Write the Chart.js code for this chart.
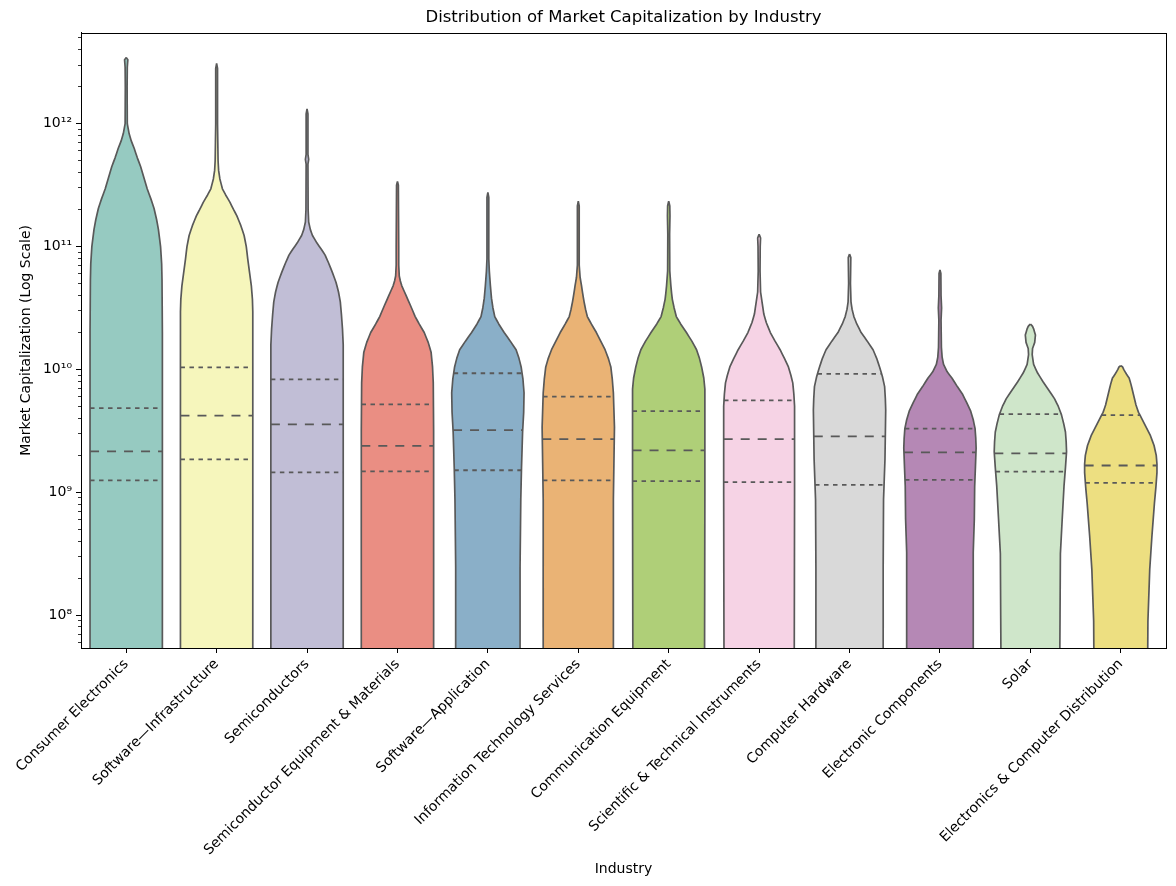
<!DOCTYPE html>
<html>
<head>
<meta charset="utf-8">
<script src="https://cdn.jsdelivr.net/npm/chart.js@4.4.0/dist/chart.umd.min.js"></script>
<style>
  html, body { margin: 0; padding: 0; background: #fff; }
</style>
</head>
<body>
<canvas id="myChart" width="1176" height="886"></canvas>
<script>
const industries = [
    'Consumer Electronics', 'Software\u2014Infrastructure', 'Semiconductors',
    'Semiconductor Equipment & Materials', 'Software\u2014Application',
    'Information Technology Services', 'Communication Equipment',
    'Scientific & Technical Instruments', 'Computer Hardware',
    'Electronic Components', 'Solar', 'Electronics & Computer Distribution'
];

const fillColors = [
    '#96cac1', '#f6f6bc', '#c1bed6', '#ea8e83', '#8aafc8', '#eab375',
    '#afcf78', '#f6d3e5', '#d9d9d9', '#b588b5', '#cfe6ca', '#eddf81'
];

// quartiles of market cap (USD)
const q1Values = [1.25e9, 1.85e9, 1.45e9, 1.48e9, 1.51e9, 1.25e9, 1.23e9, 1.21e9, 1.15e9, 1.26e9, 1.47e9, 1.19e9];
const medianValues = [2.15e9, 4.2e9, 3.57e9, 2.38e9, 3.2e9, 2.71e9, 2.19e9, 2.71e9, 2.85e9, 2.11e9, 2.07e9, 1.65e9];
const q3Values = [4.84e9, 1.04e10, 8.3e9, 5.2e9, 9.3e9, 6.0e9, 4.58e9, 5.6e9, 9.2e9, 3.3e9, 4.33e9, 4.25e9];

// violin outlines: [log10 market cap, relative density width]
const consumerElectronics = [[12.54, 0], [12.52, 0.045], [12.46, 0.03], [12.3, 0.025], [12.0, 0.03], [11.92, 0.08],
    [11.86, 0.14], [11.8, 0.22], [11.72, 0.31], [11.65, 0.4], [11.56, 0.49], [11.47, 0.58], [11.39, 0.68], [11.31, 0.77],
    [11.22, 0.84], [11.14, 0.89], [11.0, 0.95], [10.86, 0.98], [10.73, 0.99], [10.3, 1.0], [7.5, 1.0]];
const softwareInfrastructure = [[12.49, 0], [12.45, 0.025], [12.0, 0.025], [11.7, 0.04], [11.62, 0.055], [11.55, 0.09],
    [11.47, 0.16], [11.42, 0.25], [11.36, 0.37], [11.3, 0.47], [11.25, 0.56], [11.17, 0.67], [11.09, 0.76], [11.0, 0.82],
    [10.9, 0.86], [10.79, 0.91], [10.68, 0.96], [10.57, 0.99], [10.47, 1.0], [7.5, 1.0]];
const semiconductors = [[12.12, 0], [12.08, 0.025], [11.75, 0.025], [11.71, 0.045], [11.67, 0.025], [11.3, 0.03],
    [11.2, 0.045], [11.14, 0.09], [11.09, 0.15], [11.03, 0.27], [10.98, 0.39], [10.93, 0.5], [10.87, 0.59], [10.79, 0.7],
    [10.71, 0.8], [10.63, 0.87], [10.55, 0.92], [10.45, 0.95], [10.33, 0.98], [10.2, 1.0], [7.5, 1.0]];
const semiEquipment = [[11.53, 0], [11.5, 0.025], [11.0, 0.035], [10.85, 0.035], [10.76, 0.05], [10.72, 0.08], [10.68, 0.12],
    [10.6, 0.24], [10.52, 0.36], [10.43, 0.49], [10.37, 0.6], [10.3, 0.74], [10.22, 0.85], [10.14, 0.93], [10.02, 0.97],
    [9.89, 0.99], [9.5, 1.0], [7.5, 1.0]];
const softwareApplication = [[11.44, 0], [11.4, 0.025], [10.9, 0.025], [10.8, 0.04], [10.68, 0.07], [10.58, 0.1], [10.5, 0.14],
    [10.43, 0.19], [10.37, 0.3], [10.3, 0.45], [10.23, 0.62], [10.16, 0.78], [10.09, 0.86], [10.02, 0.92], [9.92, 0.97],
    [9.81, 1.0], [9.65, 0.99], [9.49, 0.96], [9.2, 0.93], [8.94, 0.91], [8.39, 0.89], [7.5, 0.89]];
const itServices = [[11.37, 0], [11.33, 0.025], [10.85, 0.025], [10.75, 0.05], [10.68, 0.09], [10.62, 0.12], [10.55, 0.16],
    [10.49, 0.2], [10.43, 0.25], [10.37, 0.36], [10.3, 0.5], [10.23, 0.62], [10.16, 0.74], [10.09, 0.83], [10.02, 0.9],
    [9.92, 0.94], [9.81, 0.97], [9.53, 1.0], [8.94, 0.97], [7.5, 0.97]];
const commEquipment = [[11.37, 0], [11.33, 0.03], [11.25, 0.035], [11.1, 0.025], [10.8, 0.03], [10.68, 0.06],
    [10.62, 0.08], [10.57, 0.1], [10.5, 0.15], [10.43, 0.21], [10.37, 0.33], [10.3, 0.49], [10.23, 0.64], [10.16, 0.77],
    [10.09, 0.85], [10.02, 0.91], [9.93, 0.97], [9.84, 1.0], [9.0, 1.0], [7.5, 0.99]];
const sciInstruments = [[11.1, 0], [11.07, 0.04], [11.0, 0.03], [10.8, 0.025], [10.63, 0.04], [10.55, 0.08],
    [10.45, 0.13], [10.38, 0.2], [10.3, 0.31], [10.23, 0.44], [10.16, 0.58], [10.09, 0.7], [10.02, 0.81], [9.95, 0.88],
    [9.89, 0.93], [9.8, 0.96], [9.7, 0.98], [9.0, 0.98], [7.5, 0.97]];
const computerHardware = [[10.94, 0], [10.91, 0.035], [10.8, 0.03], [10.7, 0.025], [10.55, 0.04], [10.49, 0.07],
    [10.43, 0.12], [10.37, 0.2], [10.3, 0.32], [10.23, 0.49], [10.16, 0.65], [10.09, 0.75], [10.02, 0.83], [9.94, 0.91],
    [9.86, 0.97], [9.76, 0.99], [9.67, 1.0], [9.27, 0.98], [8.94, 0.94], [8.39, 0.93], [7.5, 0.93]];
const electronicComponents = [[10.81, 0], [10.78, 0.025], [10.6, 0.03], [10.5, 0.045], [10.4, 0.03], [10.18, 0.04],
    [10.1, 0.06], [10.04, 0.1], [9.98, 0.2], [9.93, 0.33], [9.86, 0.48], [9.8, 0.62], [9.73, 0.74], [9.66, 0.85],
    [9.59, 0.92], [9.52, 0.97], [9.44, 0.99], [9.36, 1.0], [9.2, 0.98], [9.05, 0.96], [8.78, 0.95], [8.51, 0.92], [7.5, 0.92]];
const solar = [[10.37, 0], [10.35, 0.06], [10.33, 0.09], [10.28, 0.14], [10.22, 0.12], [10.17, 0.06], [10.12, 0.05],
    [10.04, 0.09], [9.97, 0.2], [9.9, 0.35], [9.83, 0.51], [9.76, 0.67], [9.7, 0.77], [9.63, 0.86], [9.56, 0.92],
    [9.49, 0.97], [9.41, 0.99], [9.33, 1.0], [9.2, 0.97], [9.05, 0.93], [8.78, 0.88], [8.5, 0.83], [7.5, 0.81]];
const ecDistribution = [[10.03, 0], [10.02, 0.05], [10.0, 0.08], [9.96, 0.16], [9.93, 0.23], [9.88, 0.28], [9.82, 0.33],
    [9.71, 0.42], [9.65, 0.49], [9.6, 0.58], [9.53, 0.7], [9.46, 0.82], [9.38, 0.92], [9.3, 0.98], [9.23, 1.0], [9.16, 1.0],
    [9.04, 0.97], [8.91, 0.93], [8.64, 0.86], [8.37, 0.8], [7.95, 0.75], [7.5, 0.74]];

const violinShapes = [consumerElectronics, softwareInfrastructure, semiconductors, semiEquipment,
    softwareApplication, itServices, commEquipment, sciInstruments, computerHardware,
    electronicComponents, solar, ecDistribution];

const yTickValues = [1e8, 1e9, 1e10, 1e11, 1e12];

const HALF = 0.4;
const EDGE = '#595959';

function widthAt(shape, value) {
    const lv = Math.log10(value);
    for (let i = 0; i < shape.length - 1; i++) {
        const a = shape[i], b = shape[i + 1];
        if (lv <= a[0] && lv >= b[0]) {
            const t = (a[0] - lv) / (a[0] - b[0]);
            return a[1] + t * (b[1] - a[1]);
        }
    }
    return 0;
}

function outline(shape, i) {
    const right = shape.map(p => ({x: i + HALF * p[1], y: Math.pow(10, p[0])}));
    const left = shape.slice().reverse().map(p => ({x: i - HALF * p[1], y: Math.pow(10, p[0])}));
    return right.concat(left);
}

function quartileLine(i, value, dash, label) {
    const w = HALF * widthAt(violinShapes[i], value);
    return {
        label: label,
        data: [{x: i - w, y: value}, {x: i + w, y: value}],
        borderColor: EDGE,
        borderWidth: 1.8,
        borderDash: dash,
        pointRadius: 0,
        fill: false,
        order: 0
    };
}

let datasets = [];
for (let i = 0; i < industries.length; i++) {
    datasets.push(quartileLine(i, q1Values[i], [4.5, 4.5], 'q1'));
    datasets.push(quartileLine(i, medianValues[i], [9, 8], 'median'));
    datasets.push(quartileLine(i, q3Values[i], [4.5, 4.5], 'q3'));
    datasets.push({
        label: industries[i],
        data: outline(violinShapes[i], i),
        borderColor: EDGE,
        borderWidth: 1.7,
        backgroundColor: fillColors[i],
        fill: 'shape',
        // a tiny tension keeps Chart.js off its fast path, which assumes x only grows
        tension: 0.001,
        borderJoinStyle: 'round',
        pointRadius: 0,
        order: 1
    });
}

const supDigits = ['\u2070', '\u00b9', '\u00b2', '\u00b3', '\u2074', '\u2075', '\u2076', '\u2077', '\u2078', '\u2079'];
function sup(n) {
    return String(n).split('').map(d => supDigits[+d]).join('');
}

const frame = {
    id: 'frame',
    afterDraw(chart) {
        const a = chart.chartArea;
        const c = chart.ctx;
        c.save();
        c.strokeStyle = '#000';
        c.lineWidth = 1;
        c.strokeRect(Math.round(a.left) + 0.5, Math.round(a.top) + 0.5, Math.round(a.right - a.left), Math.round(a.bottom - a.top));
        c.restore();
    }
};

Chart.defaults.font.family = 'DejaVu Sans';
Chart.defaults.color = '#000';

var ctx = document.getElementById('myChart').getContext('2d');
const chart = new Chart(ctx, {
    type: 'line',
    data: { datasets: datasets },
    plugins: [frame],
    options: {
        responsive: false,
        animation: false,
        events: [],
        layout: { padding: { left: 0, right: 10, top: 0, bottom: 0 } },
        plugins: {
            legend: { display: false },
            tooltip: { enabled: false },
            title: {
                display: true,
                fullSize: false,
                text: 'Distribution of Market Capitalization by Industry',
                font: { size: 16.5, weight: 'normal' },
                color: '#000',
                padding: { top: 8, bottom: 5 }
            }
        },
        scales: {
            x: {
                type: 'linear',
                min: -0.5,
                max: 11.5,
                afterBuildTicks: (scale) => {
                    scale.ticks = industries.map((_, i) => ({value: i}));
                },
                afterFit: (scale) => {
                    scale.height = 238;
                    scale.paddingLeft = 0;
                    scale.paddingRight = 0;
                },
                ticks: {
                    autoSkip: false,
                    minRotation: 45,
                    maxRotation: 45,
                    padding: 3,
                    font: { size: 14 },
                    callback: (v) => industries[v]
                },
                grid: { drawOnChartArea: false, tickLength: 5, tickColor: '#000', tickWidth: 1 },
                border: { display: true, color: '#000', width: 1 },
                title: {
                    display: true,
                    text: 'Industry',
                    font: { size: 14 },
                    padding: { top: 0, bottom: 8 }
                }
            },
            y: {
                type: 'logarithmic',
                weight: 1,
                min: Math.pow(10, 7.732),
                max: Math.pow(10, 12.74),
                afterBuildTicks: (scale) => {
                    scale.ticks = yTickValues.map(v => ({value: v}));
                },
                afterFit: (scale) => {
                    scale.width = 81;
                    scale.paddingTop = 0;
                    scale.paddingBottom = 0;
                },
                ticks: {
                    autoSkip: false,
                    padding: 4,
                    font: { size: 14 },
                    callback: (v) => '10' + sup(Math.round(Math.log10(v)))
                },
                grid: { drawOnChartArea: false, tickLength: 5, tickColor: '#000', tickWidth: 1 },
                border: { display: true, color: '#000', width: 1 },
                title: {
                    display: true,
                    text: 'Market Capitalization (Log Scale)',
                    font: { size: 14 },
                    padding: { top: 18, bottom: 0 }
                }
            },
            yMinor: {
                type: 'logarithmic',
                position: 'left',
                weight: 0,
                min: Math.pow(10, 7.732),
                max: Math.pow(10, 12.74),
                afterBuildTicks: (scale) => {
                    let t = [];
                    for (let e = 7; e <= 12; e++) {
                        for (let k = 2; k <= 9; k++) {
                            const v = k * Math.pow(10, e);
                            if (v >= scale.min && v <= scale.max) t.push({value: v});
                        }
                    }
                    scale.ticks = t;
                },
                afterFit: (scale) => {
                    scale.width = 0;
                    scale.paddingTop = 0;
                    scale.paddingBottom = 0;
                },
                ticks: { display: false },
                grid: { drawOnChartArea: false, tickLength: 3, tickColor: '#000', tickWidth: 0.8 },
                border: { display: false }
            }
        }
    }
});
</script>
</body>
</html>
